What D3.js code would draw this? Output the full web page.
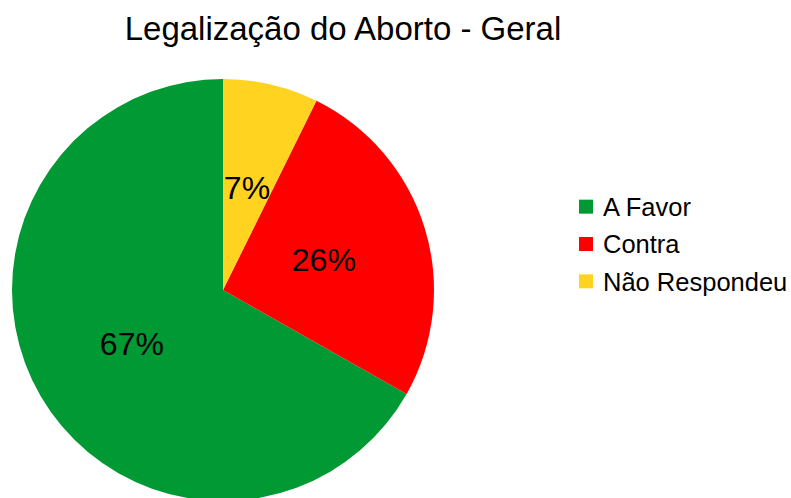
<!DOCTYPE html>
<meta charset="utf-8">
<style>
  body { margin: 0; background: #fff; }
  text { font-family: "Liberation Sans", Arial, sans-serif; fill: #000; }
  .title { font-size: 33px; }
  .pct { font-size: 32px; }
  .legendText { font-size: 25.5px; }
</style>
<svg id="chart" width="791" height="498"></svg>
<script src="https://d3js.org/d3.v7.min.js"></script>
<script>

var categories = ["A Favor", "Contra", "Não Respondeu"];
var values = [66.8, 25.9, 7.3];
var colors = ["#009933", "#FF0000", "#FFD320"];

var svg = d3.select("#chart"),
    cx = 223, cy = 290, radius = 211;

var data = categories.map(function(c, i) { return {name: c, value: values[i], color: colors[i]}; });

// LibreOffice draws slices counter-clockwise from 12 o'clock
var pie = d3.pie()
    .sort(null)
    .value(function(d) { return d.value; })
    .startAngle(2 * Math.PI)
    .endAngle(0);

var arc = d3.arc().innerRadius(0).outerRadius(radius);
var labelArc = d3.arc().innerRadius(radius * 0.5).outerRadius(radius * 0.5);

var g = svg.append("g").attr("transform", "translate(" + cx + "," + cy + ")");

var slices = g.selectAll(".slice").data(pie(data)).enter();

slices.append("path")
    .attr("d", arc)
    .attr("fill", function(d) { return d.data.color; });

var total = d3.sum(values);
slices.append("text")
    .attr("class", "pct")
    .attr("transform", function(d) { return "translate(" + labelArc.centroid(d) + ")"; })
    .attr("text-anchor", "middle")
    .attr("dy", "0.36em")
    .text(function(d) { return Math.round(d.data.value / total * 100) + "%"; });

// title
svg.append("text")
    .attr("class", "title")
    .attr("x", 343)
    .attr("y", 40)
    .attr("text-anchor", "middle")
    .text("Legalização do Aborto - Geral");

// legend
var y = d3.scaleBand().domain(categories).range([188, 300]);

var legend = svg.append("g").selectAll("g").data(data).enter().append("g")
    .attr("transform", function(d) { return "translate(579," + y(d.name) + ")"; });

legend.append("rect")
    .attr("x", 0)
    .attr("y", y.bandwidth() / 2 - 7)
    .attr("width", 14)
    .attr("height", 14)
    .attr("fill", function(d) { return d.color; });

legend.append("text")
    .attr("class", "legendText")
    .attr("x", 24)
    .attr("y", y.bandwidth() / 2)
    .attr("dy", "0.36em")
    .text(function(d) { return d.name; });

</script>
